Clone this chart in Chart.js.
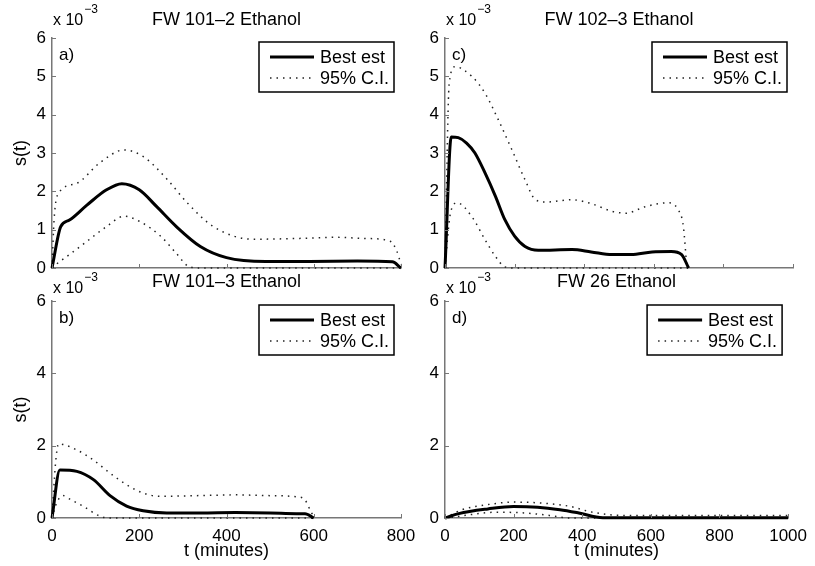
<!DOCTYPE html>
<html>
<head>
<meta charset="utf-8">
<script src="https://cdn.jsdelivr.net/npm/chart.js@4/dist/chart.umd.min.js"></script>
<style>
  html, body { margin: 0; padding: 0; background: #fff; }
  #wrap { position: relative; width: 815px; height: 566px; overflow: hidden; }
  #wrap canvas { position: absolute; left: 0; top: 0; }
</style>
</head>
<body>
<div id="wrap"></div>
<script>
// values in units of 10^-3, time in minutes

// a) FW 101-2 Ethanol
const tA_best = [0, 20, 40, 80, 125, 160, 200, 240, 285, 340, 400, 490, 590, 700, 780, 800];
const sA_best = [0, 1.08, 1.25, 1.64, 2.04, 2.2, 2.04, 1.6, 1.08, 0.56, 0.27, 0.17, 0.17, 0.18, 0.16, 0];
const tA_up = [0, 5, 15, 55, 110, 165, 210, 265, 310, 370, 460, 560, 650, 720, 775, 790, 800];
const sA_up = [0, 1.3, 1.95, 2.2, 2.75, 3.08, 2.9, 2.3, 1.7, 1.08, 0.75, 0.77, 0.8, 0.77, 0.7, 0.45, 0.1];
const tA_lo = [0, 10, 40, 75, 125, 165, 200, 250, 285, 315, 340, 800];
const sA_lo = [0, 0.1, 0.35, 0.65, 1.08, 1.35, 1.22, 0.82, 0.38, 0.03, 0, 0];

// c) FW 102-3 Ethanol
const tC_best = [0, 18, 38, 62, 86, 115, 145, 172, 200, 230, 268, 365, 420, 480, 535, 595, 650, 680, 700];
const sC_best = [0, 3.42, 3.4, 3.26, 3.0, 2.48, 1.87, 1.26, 0.83, 0.56, 0.46, 0.48, 0.42, 0.35, 0.35, 0.42, 0.43, 0.35, 0];
const tC_up = [0, 12, 29, 77, 115, 153, 192, 230, 260, 290, 365, 420, 480, 520, 575, 640, 670, 685, 695];
const sC_up = [0, 4.8, 5.25, 5.0, 4.56, 3.87, 3.09, 2.3, 1.78, 1.72, 1.78, 1.68, 1.48, 1.43, 1.6, 1.7, 1.52, 1.08, 0];
const tC_lo = [0, 15, 35, 77, 115, 145, 172, 200, 700];
const sC_lo = [0, 1.4, 1.7, 1.34, 0.74, 0.3, 0.03, 0, 0];

// b) FW 101-3 Ethanol
const tB_best = [0, 18, 57, 95, 133, 171, 209, 263, 340, 420, 500, 560, 580, 600];
const sB_best = [0, 1.33, 1.29, 1.06, 0.62, 0.33, 0.2, 0.14, 0.14, 0.15, 0.14, 0.12, 0.12, 0];
const tB_up = [0, 8, 15, 57, 95, 133, 171, 209, 248, 340, 420, 490, 565, 580, 595, 600];
const sB_up = [0, 1.5, 2.05, 1.88, 1.6, 1.24, 0.92, 0.69, 0.6, 0.62, 0.64, 0.62, 0.58, 0.5, 0.14, 0.05];
const tB_lo = [0, 10, 25, 41, 72, 110, 130, 600];
const sB_lo = [0, 0.4, 0.62, 0.52, 0.32, 0.05, 0, 0];

// d) FW 26 Ethanol
const tD_best = [0, 40, 125, 200, 270, 335, 390, 460, 1000];
const sD_best = [0, 0.12, 0.25, 0.32, 0.3, 0.23, 0.14, 0.01, 0.01];
const tD_up = [0, 50, 125, 200, 285, 365, 420, 480, 550, 1000];
const sD_up = [0, 0.23, 0.37, 0.44, 0.41, 0.32, 0.18, 0.09, 0.07, 0.07];
const tD_lo = [0, 30, 80, 150, 230, 305, 365, 1000];
const sD_lo = [0, 0.03, 0.1, 0.16, 0.14, 0.07, 0, 0];

const legendLabels = ["Best est", "95% C.I."];
const xLabel = "t (minutes)";
const yLabel = "s(t)";

const FONT = '"Liberation Sans", Arial, Helvetica, sans-serif';
const AXIS = "#777";
const W = 815, H = 566;

const panels = [
  { letter: "a)", title: "FW 101\u20132 Ethanol", left: 52, top: 38, right: 401, bottom: 268,
    xmax: 800, ystep: 1, xTicks: false, yTitle: true, titleY: 25, expY: 25,
    t: [tA_best, tA_up, tA_lo], s: [sA_best, sA_up, sA_lo] },
  { letter: "c)", title: "FW 102\u20133 Ethanol", left: 445, top: 38, right: 793, bottom: 268,
    xmax: 1000, ystep: 1, xTicks: false, yTitle: false, titleY: 25, expY: 25,
    t: [tC_best, tC_up, tC_lo], s: [sC_best, sC_up, sC_lo] },
  { letter: "b)", title: "FW 101\u20133 Ethanol", left: 52, top: 301, right: 401, bottom: 518,
    xmax: 800, ystep: 2, xTicks: true, yTitle: true, titleY: 287, expY: 293,
    t: [tB_best, tB_up, tB_lo], s: [sB_best, sB_up, sB_lo] },
  { letter: "d)", title: "FW 26 Ethanol", left: 445, top: 301, right: 793, bottom: 518,
    xmax: 1000, ystep: 2, xTicks: true, yTitle: false, titleY: 287, expY: 293,
    t: [tD_best, tD_up, tD_lo], s: [sD_best, sD_up, sD_lo] },
];

function pts(t, s) {
  return t.map((x, i) => ({ x, y: s[i] }));
}

function bestStyle() {
  return { borderColor: "#000", borderWidth: 3, pointRadius: 0, fill: false,
           cubicInterpolationMode: "monotone", clip: false };
}

function ciStyle() {
  return { borderColor: "#222", borderWidth: 1.5, borderDash: [1.5, 5], pointRadius: 0,
           fill: false, cubicInterpolationMode: "monotone", clip: false };
}

// inward ticks, titles, legend box and other text
const decor = {
  id: "decor",
  afterDraw(chart, args, opts) {
    const p = opts.panel;
    const ctx = chart.ctx;
    const area = chart.chartArea;
    const xs = chart.scales.x, ys = chart.scales.y;
    ctx.save();

    ctx.strokeStyle = AXIS;
    ctx.lineWidth = 1;
    xs.ticks.forEach(tk => {
      const px = Math.round(xs.getPixelForValue(tk.value)) + 0.5;
      ctx.beginPath(); ctx.moveTo(px, area.bottom); ctx.lineTo(px, area.bottom - 4); ctx.stroke();
    });
    ys.ticks.forEach(tk => {
      const py = Math.round(ys.getPixelForValue(tk.value)) + 0.5;
      ctx.beginPath(); ctx.moveTo(area.left, py); ctx.lineTo(area.left + 4, py); ctx.stroke();
    });

    ctx.fillStyle = "#000";
    ctx.textBaseline = "alphabetic";

    // title
    ctx.font = "18px " + FONT;
    ctx.textAlign = "center";
    ctx.fillText(p.title, (area.left + area.right) / 2, p.titleY);

    // exponent
    ctx.textAlign = "left";
    ctx.font = "16px " + FONT;
    const base = "x 10";
    ctx.fillText(base, area.left + 1, p.expY);
    const bw = ctx.measureText(base).width;
    ctx.font = "12px " + FONT;
    ctx.fillText("\u22123", area.left + 2 + bw, p.expY - 12);

    // panel letter
    ctx.font = "17px " + FONT;
    ctx.textBaseline = "middle";
    ctx.fillText(p.letter, area.left + 7, area.top + 17);

    // axis titles
    ctx.font = "18px " + FONT;
    if (p.yTitle) {
      ctx.save();
      ctx.translate(21, (area.top + area.bottom) / 2);
      ctx.rotate(-Math.PI / 2);
      ctx.textAlign = "center";
      ctx.fillText(yLabel, 0, 0);
      ctx.restore();
    }
    if (p.xTicks) {
      ctx.textAlign = "center";
      ctx.fillText(xLabel, (area.left + area.right) / 2, 551);
    }

    // legend
    const bx = area.right - (p.left > 400 ? 141 : 142);
    const by = area.top + 4;
    const bwid = 135, bh = 50;
    ctx.fillStyle = "#fff";
    ctx.fillRect(bx, by, bwid, bh);
    ctx.strokeStyle = "#000";
    ctx.lineWidth = 1.5;
    ctx.strokeRect(bx, by, bwid, bh);

    const rows = [by + 15, by + 36];
    ctx.lineWidth = 3;
    ctx.beginPath(); ctx.moveTo(bx + 11, rows[0]); ctx.lineTo(bx + 55, rows[0]); ctx.stroke();
    ctx.lineWidth = 1.5;
    ctx.strokeStyle = "#222";
    ctx.setLineDash([1.5, 5]);
    ctx.beginPath(); ctx.moveTo(bx + 11, rows[1]); ctx.lineTo(bx + 55, rows[1]); ctx.stroke();
    ctx.setLineDash([]);

    ctx.fillStyle = "#000";
    ctx.textAlign = "left";
    ctx.font = "18px " + FONT;
    ctx.fillText(legendLabels[0], bx + 61, rows[0] + 1);
    ctx.fillText(legendLabels[1], bx + 61, rows[1] + 1);

    ctx.restore();
  }
};

function makePanel(p) {
  const canvas = document.createElement("canvas");
  canvas.width = W;
  canvas.height = H;
  document.getElementById("wrap").appendChild(canvas);

  const yw = 30, xh = 30;
  const tickFont = { family: FONT, size: 17 };

  new Chart(canvas, {
    type: "line",
    data: {
      datasets: [
        { label: legendLabels[0], data: pts(p.t[0], p.s[0]), ...bestStyle() },
        { label: legendLabels[1], data: pts(p.t[1], p.s[1]), ...ciStyle() },
        { label: "lower", data: pts(p.t[2], p.s[2]), ...ciStyle() },
      ]
    },
    options: {
      responsive: false,
      animation: false,
      devicePixelRatio: 1,
      layout: {
        padding: { left: p.left - yw, right: W - p.right, top: p.top, bottom: H - p.bottom - xh }
      },
      plugins: {
        legend: { display: false },
        tooltip: { enabled: false },
        decor: { panel: p }
      },
      scales: {
        x: {
          type: "linear", min: 0, max: p.xmax,
          grid: { display: false, drawTicks: false },
          border: { color: AXIS, width: 1.5 },
          ticks: { stepSize: 200, display: p.xTicks, color: "#000", font: tickFont, padding: 8,
                   maxRotation: 0, callback: v => String(v) },
          afterFit: s => { s.height = xh; }
        },
        y: {
          min: 0, max: 6,
          grid: { display: false, drawTicks: false },
          border: { color: AXIS, width: 1.5 },
          ticks: { stepSize: p.ystep, color: "#000", font: tickFont, padding: 6 },
          afterFit: s => { s.width = yw; }
        }
      }
    },
    plugins: [decor]
  });
}

panels.forEach(makePanel);
</script>
</body>
</html>
